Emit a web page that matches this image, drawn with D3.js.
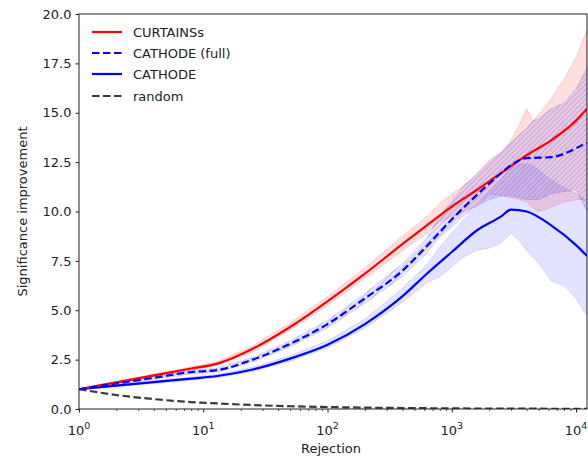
<!DOCTYPE html>
<html><head><meta charset="utf-8">
<script src="https://cdn.jsdelivr.net/npm/d3@7"></script>
<style>body{margin:0;background:#fff}svg{display:block}text{font-family:"DejaVu Sans",sans-serif}</style>
</head><body><svg id="c" width="588" height="457"></svg>
<script>
// ---- data ----
const rejection = [1, 2, 4, 8, 13, 25, 50, 100, 200, 400, 630, 1000, 1600, 2500, 3000, 4000, 6300, 10000, 12250];
const curtains   = [1.0, 1.35, 1.70, 2.05, 2.3, 3.05, 4.15, 5.45, 6.85, 8.35, 9.3, 10.25, 11.1, 11.95, 12.3, 12.85, 13.6, 14.6, 15.2];
const cathodeFull= [1.0, 1.29, 1.58, 1.87, 1.97, 2.5, 3.3, 4.3, 5.6, 7.0, 8.25, 9.6, 10.85, 11.95, 12.35, 12.7, 12.75, 13.2, 13.5];
const cathode    = [1.0, 1.18, 1.36, 1.54, 1.67, 2.0, 2.55, 3.25, 4.3, 5.7, 6.85, 7.95, 9.05, 9.75, 10.1, 10.0, 9.3, 8.3, 7.75];
const random     = [1.0, 0.71, 0.5, 0.35, 0.28, 0.2, 0.14, 0.1, 0.07, 0.05, 0.04, 0.03, 0.025, 0.02, 0.018, 0.016, 0.013, 0.01, 0.009];

const bandRejection = [1, 2, 4, 8, 13, 25, 50, 100, 200, 400, 630, 800, 1000, 1250, 1600, 2000, 2500, 3000, 3500, 4000, 4500, 5000, 6300, 8000, 10000, 12250];
const curtainsLo = [0.97, 1.3, 1.63, 1.97, 2.2, 2.9, 4.0, 5.25, 6.6, 8.0, 8.9, 9.5, 9.7, 10.0, 10.3, 10.9, 10.8, 10.7, 10.6, 10.5, 10.2, 10.0, 10.2, 10.5, 10.6, 10.6];
const curtainsHi = [1.03, 1.4, 1.77, 2.13, 2.4, 3.2, 4.35, 5.7, 7.15, 8.75, 9.75, 10.4, 10.9, 11.3, 11.9, 12.6, 13.0, 13.6, 14.4, 15.2, 14.6, 14.9, 15.7, 16.7, 17.8, 19.2];
const fullLo     = [0.97, 1.24, 1.5, 1.78, 1.87, 2.38, 3.15, 4.1, 5.35, 6.7, 7.9, 8.7, 9.2, 9.8, 10.3, 10.6, 10.8, 10.8, 10.7, 10.6, 10.6, 10.6, 10.9, 11.0, 11.1, 10.0];
const fullHi     = [1.03, 1.34, 1.66, 1.96, 2.07, 2.62, 3.45, 4.5, 5.85, 7.35, 8.65, 9.8, 10.5, 11.3, 11.9, 12.5, 13.0, 13.5, 13.9, 14.2, 14.6, 14.7, 15.2, 15.5, 16.2, 17.3];
const cathodeLo  = [0.97, 1.13, 1.29, 1.46, 1.58, 1.9, 2.42, 3.1, 4.1, 5.4, 6.4, 6.7, 7.2, 7.7, 8.05, 8.15, 8.4, 8.9, 8.5, 8.05, 7.7, 7.4, 6.5, 6.25, 5.6, 4.7];
const cathodeHi  = [1.03, 1.23, 1.43, 1.62, 1.76, 2.12, 2.7, 3.45, 4.55, 6.1, 7.3, 8.2, 8.9, 9.6, 10.3, 11.0, 11.6, 12.2, 12.4, 12.4, 12.3, 12.1, 11.6, 11.2, 10.9, 10.5];

const yTicks = [0, 2.5, 5, 7.5, 10, 12.5, 15, 17.5, 20];
const xMajor = [1, 10, 100, 1000, 10000];
const xLabelExp = ["0", "1", "2", "3", "4"];
const legendNames = ["CURTAINSs", "CATHODE (full)", "CATHODE", "random"];

// ---- layout ----
const svg = d3.select("#c");
const L = 79, R = 587, T = 14, B = 409;
const x = d3.scaleLog().domain([1, 12250]).range([L, R]);
const y = d3.scaleLinear().domain([0, 20]).range([B, T]);

const defs = svg.append("defs");
defs.append("clipPath").attr("id", "clip").append("rect")
  .attr("x", L).attr("y", T).attr("width", R - L).attr("height", B - T);
const pat = defs.append("pattern").attr("id", "hatch").attr("patternUnits", "userSpaceOnUse")
  .attr("width", 5).attr("height", 5);
pat.append("path").attr("d", "M-1,1 l2,-2 M0,5 l5,-5 M4,6 l2,-2")
  .attr("stroke", "#5a3fd0").attr("stroke-opacity", 0.35).attr("stroke-width", 0.8);

const g = svg.append("g").attr("clip-path", "url(#clip)");

const area = (lo, hi) => d3.area()
  .x((d, i) => x(bandRejection[i])).y0((d, i) => y(lo[i])).y1((d, i) => y(hi[i]))(bandRejection);
const line = d3.line().curve(d3.curveMonotoneX);
const pts = arr => rejection.map((r, i) => [x(r), y(arr[i])]);

// bands
g.append("path").attr("d", area(curtainsLo, curtainsHi))
  .attr("fill", "red").attr("fill-opacity", 0.13).attr("stroke", "red").attr("stroke-opacity", 0.15);
g.append("path").attr("d", area(cathodeLo, cathodeHi))
  .attr("fill", "blue").attr("fill-opacity", 0.11).attr("stroke", "blue").attr("stroke-opacity", 0.12);
g.append("path").attr("d", area(fullLo, fullHi))
  .attr("fill", "blue").attr("fill-opacity", 0.1).attr("stroke", "blue").attr("stroke-opacity", 0.12);
g.append("path").attr("d", area(fullLo, fullHi)).attr("fill", "url(#hatch)");

// lines
g.append("path").attr("d", line(pts(random))).attr("fill", "none")
  .attr("stroke", "#3a3a3a").attr("stroke-width", 2.2).attr("stroke-dasharray", "7.5,3.5");
g.append("path").attr("d", line(pts(cathode))).attr("fill", "none")
  .attr("stroke", "blue").attr("stroke-width", 2.2);
g.append("path").attr("d", line(pts(curtains))).attr("fill", "none")
  .attr("stroke", "red").attr("stroke-width", 2.2);
g.append("path").attr("d", line(pts(cathodeFull))).attr("fill", "none")
  .attr("stroke", "blue").attr("stroke-width", 2.2).attr("stroke-dasharray", "7.5,3.5");

// frame
svg.append("rect").attr("x", L).attr("y", T).attr("width", R - L).attr("height", B - T)
  .attr("fill", "none").attr("stroke", "#222").attr("stroke-width", 1);

// y axis
const ya = svg.append("g").attr("transform", `translate(${L},0)`)
  .call(d3.axisLeft(y).tickValues(yTicks).tickFormat(d3.format(".1f")).tickSize(3.5).tickPadding(4));
ya.select(".domain").remove();
ya.selectAll("text").attr("font-size", 13).attr("fill", "#222");
ya.selectAll("line").attr("stroke", "#222");

// x axis
const minor = [];
for (let e = 0; e < 5; e++) for (let m = 2; m <= 9; m++) { const v = m * Math.pow(10, e); if (v <= 12250) minor.push(v); }
const xm = svg.append("g").attr("transform", `translate(0,${B})`)
  .call(d3.axisBottom(x).tickValues(minor).tickFormat("").tickSize(2));
xm.select(".domain").remove(); xm.selectAll("line").attr("stroke", "#222").attr("stroke-width", 0.8);
const xa = svg.append("g").attr("transform", `translate(0,${B})`)
  .call(d3.axisBottom(x).tickValues(xMajor).tickFormat("").tickSize(3.5));
xa.select(".domain").remove(); xa.selectAll("line").attr("stroke", "#222");
xMajor.forEach((v, i) => {
  const t = svg.append("text").attr("x", x(v)).attr("y", 435).attr("text-anchor", "middle")
    .attr("font-size", 13).attr("fill", "#222");
  t.append("tspan").text("10");
  t.append("tspan").attr("dy", -6).attr("font-size", 9.5).text(xLabelExp[i]);
});

// axis titles
svg.append("text").attr("x", (L + R) / 2 - 2).attr("y", 453).attr("text-anchor", "middle")
  .attr("font-size", 13).attr("fill", "#222").text("Rejection");
svg.append("text").attr("transform", `translate(27,${(T + B) / 2}) rotate(-90)`)
  .attr("text-anchor", "middle").attr("font-size", 13).attr("fill", "#222").text("Significance improvement");

// legend
const legStyles = [
  { c: "red", d: null }, { c: "blue", d: "7.5,3.5" }, { c: "blue", d: null }, { c: "#3a3a3a", d: "7.5,3.5" }
];
const rowsY = [32, 53, 74, 96];
legendNames.forEach((n, i) => {
  svg.append("line").attr("x1", 92).attr("x2", 122).attr("y1", rowsY[i]).attr("y2", rowsY[i])
    .attr("stroke", legStyles[i].c).attr("stroke-width", 2.2).attr("stroke-dasharray", legStyles[i].d);
  svg.append("text").attr("x", 133).attr("y", rowsY[i] + 4.5).attr("font-size", 13)
    .attr("fill", "#222").text(n);
});
</script></body></html>
